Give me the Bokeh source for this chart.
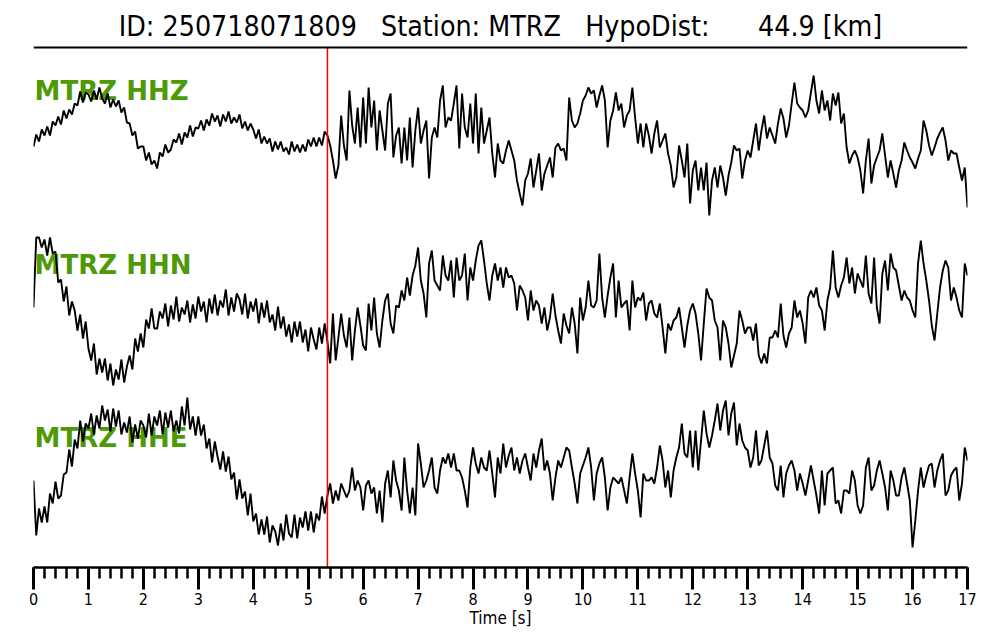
import numpy as np
from bokeh.plotting import figure
from bokeh.models import Range1d, Span, SingleIntervalTicker
from bokeh.core.properties import value
from bokeh.embed import file_html
from bokeh.resources import INLINE

# ---------------- data ----------------
event_id = "250718071809"
station = "MTRZ"
hypo_dist_km = 44.9
p_pick_s = 5.35
dt = 0.05
channels = ["MTRZ HHZ", "MTRZ HHN", "MTRZ HHE"]

hhz = [
    -6, 6, -1, 11, 5, 14, 5, 19, 15, 24,
    16, 30, 22, 31, 26, 37, 35, 49, 38, 48,
    46, 39, 50, 41, 53, 42, 37, 47, 33, 41,
    34, 40, 28, 33, 18, 17, 5, 9, -8, -6,
    -6, -20, -12, -24, -20, -28, -12, -16, -4, -12,
    -9, 1, -2, 7, -4, 8, 3, 15, 4, 13,
    12, 20, 10, 21, 15, 27, 19, 25, 14, 26,
    19, 29, 17, 23, 18, 26, 12, 19, 10, 17,
    11, 2, 11, -3, 4, -3, 2, -11, -1, -9,
    -1, -11, -7, -14, -1, -11, -4, -12, -4, -11,
    1, -6, 3, -6, 3, -5, 9, 5, -5, -20,
    -38, -25, 25, -5, -20, 50, 15, -3, 33, -7,
    43, -3, 53, 13, 40, -10, 30, 10, -10, 37,
    47, -17, 5, 13, -23, 13, -20, 23, -27, 10,
    33, -3, 10, 20, -38, 3, 13, 3, 40, 55,
    13, 23, 20, 37, 55, -8, 47, 13, 3, 37,
    -3, 47, -13, 33, -3, 10, 23, -13, -37, -3,
    -20, -23, -10, 0, -10, -20, -40, -53, -65, -40,
    -33, -18, -47, -30, -13, -50, -33, -25, -17, -37,
    -7, -3, -10, -8, -20, 43, 20, 13, 17, 27,
    40, 45, 53, 47, 50, 33, 45, 55, 40, -7,
    20, 30, 48, 30, 37, 13, 25, 30, 53, 23,
    -3, 17, -7, 17, 5, -13, 7, 20, -7, 0,
    7, -13, -25, -47, -37, -5, -20, -37, -3, -63,
    -30, -20, -50, -27, -50, -22, -75, -40, -27, -47,
    -25, -37, -55, -35, -22, -5, -10, -8, -38, -20,
    -10, -17, 0, 17, -10, 10, 25, 2, 13, 5,
    -3, 17, 32, 22, 3, 15, 37, 58, 37, 33,
    30, 23, 30, 48, 65, 40, 27, 50, 30, 40,
    20, 47, 35, 48, 17, 27, -7, -23, -15, -10,
    -17, -30, -53, -20, 2, -43, -25, -17, -10, 7,
    -15, -37, -20, -33, -47, -30, -20, -2, -10, -17,
    -22, -28, -18, -10, 20, 10, -5, -15, -7, 2,
    8, 13, 0, -20, -10, -13, -13, -27, -40, -27,
    -67,
]

hhn = [
    8, 78, 78, 68, 76, 60, 78, 62, 64, 33,
    36, 14, 29, 0, 14, 5, -15, 1, -23, -6,
    -33, -45, -28, -59, -43, -57, -43, -65, -48, -70,
    -54, -64, -44, -67, -51, -40, -54, -23, -36, -18,
    -32, -4, -13, 7, -13, -13, 4, -3, 12, -11,
    10, -4, 19, -6, 8, 1, 15, -7, 11, -3,
    19, 4, 14, -7, 17, 2, 21, 0, 15, 8,
    26, 0, 18, 4, 22, 16, 1, 22, -3, 14,
    4, 17, -8, 13, -2, 15, -7, 1, -15, 9,
    -13, -1, -21, -9, -27, -6, -21, -6, -27, -14,
    -36, -12, -24, -34, -12, -28, -8, -26, -48, 2,
    -45, -22, 2, -20, -32, -2, -45, -15, 8, -10,
    -30, -35, 12, -15, 18, -18, -32, -5, 15, 22,
    -8, -18, 10, 8, 25, 15, 38, 20, 40, 50,
    68, 35, 22, -2, 52, 65, 35, 30, 25, 60,
    40, 35, 55, 18, 58, 35, 40, 62, 15, 48,
    35, 55, 70, 75, 55, 32, 15, 40, 52, 35,
    48, 28, 48, 38, 40, 32, 5, 30, 25, 18,
    -5, 25, 5, 15, 10, -8, 8, -15, -2, 22,
    0, -15, -28, 2, -10, -18, 8, -8, -38, 18,
    -5, 8, 35, 10, 8, 15, 62, 18, -2, 20,
    38, 52, -2, 35, 8, 12, 15, -15, 35, 8,
    18, 15, 23, -5, 12, 15, 2, -2, 12, -12,
    -38, -8, -15, -5, -2, 8, -12, -32, -10, 5,
    12, 2, -18, -45, -8, 27, 18, 15, -5, -12,
    -45, -5, -12, -28, -52, -40, -28, 5, -5, -18,
    -12, -12, -25, -8, -40, -48, -38, -48, -22, -22,
    -15, -22, 12, -20, -32, -18, -12, 15, -2, 5,
    -8, -28, 18, 25, 18, 28, 10, 5, -15, 15,
    28, 65, 28, 18, 30, 38, 58, 32, 48, 22,
    42, 35, 28, 60, 22, 12, 58, 8, -8, 42,
    55, 25, 62, 48, 45, 30, 15, 25, 18, 15,
    5, -2, 52, 75, 52, 35, 15, -10, -25, 2,
    28, 45, 55, 48, 15, 28, 18, 5, -2, 52,
    40,
]

hhe = [
    -5, -60, -33, -47, -31, -47, -18, -28, -6, -23,
    -20, 1, 3, 26, 9, 36, 27, 55, 34, 52,
    47, 62, 41, 60, 47, 70, 55, 66, 44, 67,
    49, 65, 41, 53, 43, 59, 33, 51, 37, 55,
    50, 38, 62, 40, 59, 50, 65, 41, 63, 48,
    65, 44, 55, 42, 69, 50, 78, 46, 59, 40,
    59, 40, 51, 27, 37, 13, 34, 19, 6, 24,
    4, 19, -4, 3, -24, -4, -23, -16, -40, -18,
    -46, -38, -59, -44, -59, -41, -67, -50, -56, -70,
    -48, -65, -39, -58, -62, -39, -63, -42, -52, -36,
    -55, -36, -57, -38, -45, -21, -38, -20, -8, -28,
    -15, -25, -8, -15, -22, -15, 8, -15, -5, -12,
    -35, -10, -5, -18, -12, -38, -15, -47, -8, 5,
    -22, 15, -5, -15, -35, 18, -15, -38, -12, -40,
    32, 12, -12, -5, 5, 18, -12, -18, 5, 18,
    12, 22, 8, 22, 5, 5, -2, -15, -32, 8,
    28, 12, 2, 18, 8, 5, 25, 2, -22, 18,
    2, 32, 8, 20, 28, 5, 18, 2, 15, 22,
    8, -5, 22, 8, 25, 37, 5, 15, 2, -25,
    -2, 15, 8, 18, 28, 25, 8, -8, -28, 2,
    10, 18, 28, 8, -25, 2, 12, 18, -2, -35,
    -12, -2, -5, -8, -2, -15, -28, -2, 22, 2,
    -15, -42, 2, -5, -5, -2, -8, 8, 30, 15,
    -12, 5, -22, 5, 18, 28, 52, 22, 18, 45,
    8, 45, 5, 35, 65, 42, 28, 40, 55, 72,
    45, 65, 75, 40, 62, 73, 30, 52, 35, 28,
    25, 8, 18, 45, 10, 15, 30, 45, 18, 12,
    -10, -15, 10, -22, 2, 10, 15, 5, -15, 2,
    -8, -20, -5, 10, -5, -20, -38, 5, -30, 2,
    5, 8, -28, -25, -38, -15, -15, -18, 5, -5,
    -30, -38, -30, 8, 18, -15, -10, 5, 15, 2,
    -12, -35, 5, -5, -20, -20, -2, 8, -8, -25,
    -72, -45, -15, 8, -12, 0, 10, 12, -12, 5,
    15, 22, -20, -15, 0, 5, 8, -25, -8, 28,
    15,
]

traces = [hhz, hhn, hhe]

# ---------------- layout / style ----------------
offsets = [427, 252, 92]      # vertical baseline of each trace (plot units)
label_y = [477, 303, 130]
sep_y = 520
title_y = 540
cond_font = "DejaVu Sans Condensed"
green = "#4e9a06"
NB = "\u00a0"

p = figure(width=992, height=632, x_range=Range1d(0, 17), y_range=Range1d(0, 559),
           output_backend="svg", toolbar_location=None, y_axis_location=None,
           min_border_left=33, min_border_right=25, min_border_top=8,
           min_border_bottom=65)
p.xgrid.visible = False
p.ygrid.visible = False
p.outline_line_color = None
p.background_fill_color = "white"
p.border_fill_color = "white"

gap = NB + NB + " "
dist_str = f"{hypo_dist_km:7.1f}".replace(" ", NB)
title = f"ID: {event_id}{gap}Station: {station}{gap}HypoDist:{gap}{dist_str} [km]"
p.text(x=[8.5], y=[title_y + 1], text=[title], text_font=value(cond_font),
       text_font_size="28.3px", text_align="center", text_baseline="middle",
       text_color="black")
p.add_layout(Span(location=sep_y, dimension="width", line_color="black", line_width=2))

# channel labels (drawn beneath traces)
p.text(x=[0.02] * 3, y=label_y, text=channels, text_font=value("DejaVu Sans"),
       text_font_style="bold", text_font_size="26px", text_color=green,
       text_align="left", text_baseline="middle")

for tr, off in zip(traces, offsets):
    a = np.array(tr, dtype=float)
    t = np.arange(len(a)) * dt
    p.line(t, off + a, line_color="black", line_width=1.9)

p.segment(x0=[p_pick_s], y0=[0], x1=[p_pick_s], y1=[sep_y], line_color="red",
          line_width=1.5)

ax = p.xaxis[0]
ax.ticker = SingleIntervalTicker(interval=1, num_minor_ticks=5)
ax.axis_line_width = 2.5
ax.axis_line_color = "black"
ax.major_tick_line_width = 3
ax.minor_tick_line_width = 2.5
ax.major_tick_line_color = "black"
ax.minor_tick_line_color = "black"
ax.major_tick_out = 22
ax.major_tick_in = 0
ax.minor_tick_out = 11
ax.minor_tick_in = 0
ax.major_label_standoff = 3
ax.major_label_text_font = cond_font
ax.major_label_text_font_size = "16px"
ax.major_label_text_color = "black"
ax.axis_label = "Time [s]"
ax.axis_label_text_font = cond_font
ax.axis_label_text_font_style = "normal"
ax.axis_label_text_font_size = "17px"
ax.axis_label_text_color = "black"
ax.axis_label_standoff = 0

open("out.html", "w").write(file_html(p, INLINE))
